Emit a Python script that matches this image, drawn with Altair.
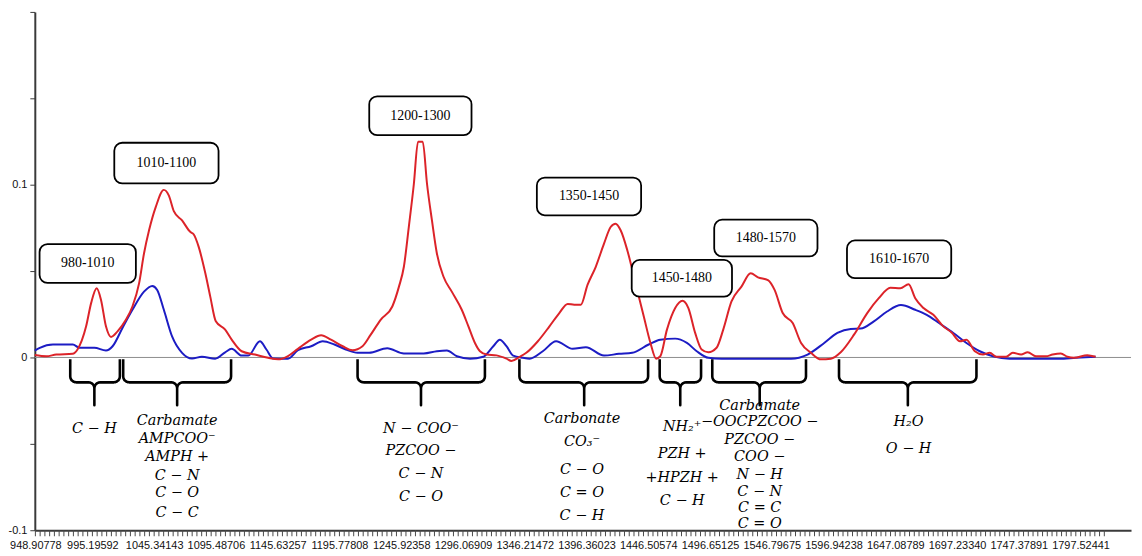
import math
import altair as alt
import pandas as pd

# ---------------- data ----------------
red_wn = [948.4, 957.9, 965.9, 979.1, 983.1, 990.1, 994.2, 998.7, 1002.2, 1006.2, 1010.3, 1015.6,
          1022.4, 1027.7, 1033.1, 1037.1, 1041.2, 1046.6, 1053.2, 1057.3, 1061.3, 1068.0, 1074.8,
          1077.4, 1081.5, 1086.9, 1090.9, 1095.4, 1103.0, 1108.3, 1116.4, 1127.2, 1137.9, 1146.0,
          1154.0, 1162.1, 1172.8, 1180.9, 1188.9, 1198.4, 1206.4, 1214.5, 1221.2, 1229.2, 1238.7,
          1244.1, 1248.1, 1252.1, 1256.2, 1259.6, 1263.4, 1266.9, 1270.9, 1274.9, 1280.3, 1287.0,
          1295.1, 1300.5, 1305.8, 1309.9, 1315.3, 1323.3, 1331.4, 1335.4, 1342.1, 1347.5, 1356.9,
          1366.3, 1374.3, 1381.1, 1386.4, 1391.8, 1397.2, 1403.9, 1410.6, 1416.0, 1420.0, 1424.1,
          1429.5, 1436.2, 1442.9, 1448.3, 1452.9, 1456.3, 1461.7, 1468.4, 1474.3, 1479.1, 1484.6,
          1489.9, 1495.3, 1502.0, 1507.4, 1514.1, 1522.2, 1529.7, 1535.6, 1543.7, 1549.1, 1555.7,
          1563.8, 1570.6, 1578.6, 1586.7, 1594.8, 1602.8, 1613.6, 1624.3, 1633.7, 1643.1, 1651.2,
          1657.9, 1663.3, 1670.0, 1678.0, 1686.1, 1692.8, 1699.6, 1704.9, 1711.7, 1718.3, 1723.8,
          1729.1, 1737.1, 1742.5, 1749.2, 1754.6, 1761.3, 1769.4, 1774.8, 1781.5, 1786.9, 1792.3,
          1803.0, 1809.7]
red_abs = [0.0014, 0.0007, 0.0017, 0.0021, 0.0046, 0.0180, 0.0316, 0.0401, 0.0333, 0.0180, 0.0119, 0.0151,
           0.0218, 0.0295, 0.0429, 0.0602, 0.0736, 0.0870, 0.0970, 0.0937, 0.0847, 0.0793, 0.0726,
           0.0713, 0.0640, 0.0487, 0.0352, 0.0209, 0.0161, 0.0103, 0.0036, 0.0017, -0.0002, -0.0011,
           0.0008, 0.0050, 0.0103, 0.0128, 0.0103, 0.0065, 0.0042, 0.0065, 0.0132, 0.0218, 0.0295,
           0.0410, 0.0525, 0.0755, 0.1004, 0.1249, 0.1249, 0.1004, 0.0793, 0.0602, 0.0467, 0.0381,
           0.0276, 0.0180, 0.0084, 0.0036, 0.0017, 0.0012, -0.0007, -0.0020, 0.0004, 0.0027, 0.0094,
           0.0180, 0.0257, 0.0310, 0.0305, 0.0305, 0.0420, 0.0525, 0.0659, 0.0755, 0.0774, 0.0736,
           0.0621, 0.0429, 0.0237, 0.0084, -0.0007, 0.0007, 0.0161, 0.0286, 0.0328, 0.0286, 0.0142,
           0.0046, 0.0030, 0.0056, 0.0161, 0.0324, 0.0410, 0.0487, 0.0464, 0.0448, 0.0391, 0.0257,
           0.0199, 0.0084, 0.0027, -0.0011, -0.0007, 0.0030, 0.0132, 0.0257, 0.0343, 0.0404, 0.0401,
           0.0424, 0.0343, 0.0286, 0.0247, 0.0180, 0.0145, 0.0094, 0.0103, 0.0036, 0.0017, 0.0027,
           0.0004, 0.0004, 0.0027, 0.0017, 0.0030, 0.0007, 0.0007, 0.0017, 0.0023, 0.0004, -0.0002,
           0.0013, 0.0004]

blue_wn = [948.4, 952.5, 963.2, 979.3, 984.7, 996.8, 1006.2, 1011.6, 1019.6, 1027.7, 1037.1, 1043.8,
           1047.8, 1053.2, 1059.9, 1068.0, 1076.1, 1084.1, 1094.9, 1103.0, 1108.3, 1116.4, 1121.8,
           1131.2, 1136.5, 1141.9, 1154.0, 1162.1, 1172.8, 1182.2, 1191.7, 1201.0, 1210.5, 1219.9,
           1234.6, 1248.1, 1264.2, 1274.9, 1283.0, 1291.1, 1301.8, 1312.6, 1320.7, 1326.0, 1331.4,
           1336.8, 1344.8, 1350.2, 1360.9, 1371.7, 1385.1, 1395.9, 1410.6, 1422.7, 1433.5, 1446.9,
           1456.3, 1468.4, 1477.9, 1485.9, 1495.3, 1506.1, 1562.5, 1575.9, 1589.4, 1600.1, 1610.9,
           1619.0, 1629.7, 1640.4, 1651.7, 1663.3, 1672.6, 1683.4, 1694.2, 1704.9, 1715.7, 1726.4,
           1739.9, 1780.2, 1793.6, 1809.7]
blue_abs = [0.0040, 0.0056, 0.0075, 0.0075, 0.0056, 0.0056, 0.0040, 0.0065, 0.0171, 0.0276, 0.0381, 0.0414,
            0.0391, 0.0276, 0.0122, 0.0027, -0.0006, 0.0004, -0.0007, 0.0030, 0.0050, 0.0011, 0.0011,
            0.0094, 0.0046, -0.0006, -0.0007, 0.0042, 0.0065, 0.0094, 0.0075, 0.0046, 0.0027, 0.0027,
            0.0053, 0.0023, 0.0023, 0.0036, 0.0040, 0.0007, -0.0007, 0.0004, 0.0065, 0.0103, 0.0065,
            0.0011, -0.0002, -0.0007, 0.0036, 0.0094, 0.0050, 0.0059, 0.0011, 0.0021, 0.0027, 0.0075,
            0.0103, 0.0109, 0.0084, 0.0036, -0.0002, -0.0007, -0.0007, 0.0017, 0.0084, 0.0142, 0.0165,
            0.0167, 0.0209, 0.0266, 0.0303, 0.0276, 0.0247, 0.0195, 0.0142, 0.0084, 0.0036, 0.0007,
            -0.0007, -0.0007, -0.0002, 0.0004]

tick_labels = ["948.90778", "995.19592", "1045.34143", "1095.48706", "1145.63257", "1195.77808",
               "1245.92358", "1296.06909", "1346.21472", "1396.36023", "1446.50574", "1496.65125",
               "1546.79675", "1596.94238", "1647.08789", "1697.23340", "1747.37891", "1797.52441"]
tick_values = [float(s) for s in tick_labels]

box_labels = ["980-1010", "1010-1100", "1200-1300", "1350-1450", "1450-1480", "1480-1570", "1610-1670"]
box_wn = [991.4, 1055.3, 1261.5, 1398.4, 1473.8, 1542.0, 1650.2]
box_abs = [0.0544, 0.1125, 0.1399, 0.0932, 0.0458, 0.0691, 0.0568]

brace_left = [977.2, 1020.2, 1210.5, 1341.9, 1455.8, 1498.5, 1601.4]
brace_right = [1017.5, 1107.8, 1313.9, 1446.4, 1489.4, 1574.6, 1713.0]
brace_tip = [996.8, 1064.0, 1262.0, 1394.5, 1472.5, 1537.0, 1657.3]

group_wn = [996.8, 1064.0, 1262.0, 1392.7, 1474.1, 1537.0, 1657.9]
group_lines = [
    ["C − H"],
    ["Carbamate", "AMPCOO⁻", "AMPH +", "C − N", "C − O", "C − C"],
    ["N − COO⁻", "PZCOO −", "C − N", "C − O"],
    ["Carbonate", "CO₃⁻", "C − O", "C = O", "C − H"],
    ["NH₂⁺", "PZH +", "+HPZH +", "C − H"],
    ["Carbamate", "−OOCPZCOO −", "PZCOO −", "COO −", "N − H", "C − N", "C = C", "C = O"],
    ["H₂O", "O − H"],
]
group_abs = [
    [-0.0414],
    [-0.0368, -0.0471, -0.0575, -0.0684, -0.0787, -0.0902],
    [-0.0414, -0.0540, -0.0672, -0.0805],
    [-0.0356, -0.0489, -0.0649, -0.0787, -0.0920],
    [-0.0402, -0.0557, -0.0695, -0.0833],
    [-0.0282, -0.0374, -0.0477, -0.0575, -0.0678, -0.0776, -0.0874, -0.0966],
    [-0.0374, -0.0529],
]

# ---------------- layout ----------------
W, H = 1104, 522
X_DOM = [948.44, 1838.5]
Y_DOM = [-0.1, 0.2]
ux = (X_DOM[1] - X_DOM[0]) / W   # data units per pixel
uy = (Y_DOM[1] - Y_DOM[0]) / H

xs = alt.Scale(domain=X_DOM, nice=False, zero=False)
ys = alt.Scale(domain=Y_DOM, nice=False, zero=False)

red_df = pd.DataFrame({"wn": red_wn, "a": red_abs})
blue_df = pd.DataFrame({"wn": blue_wn, "a": blue_abs})

# one small tick per category along the bottom axis
step = (tick_values[2] - tick_values[1]) / 13
cat_ticks = []
v = tick_values[0]
while v < 1818:
    cat_ticks.append(v)
    v += step
ticks_df = pd.DataFrame({"wn": cat_ticks, "a": [-0.1 - 3 * uy] * len(cat_ticks)})

# braces
rows = []
for b, (x1, x2, xm) in enumerate(zip(brace_left, brace_right, brace_tip)):
    rw, rv = 6 * ux, 6 * uy
    vt, vm, vb = -0.0011, -0.0144, -0.0276
    pts = [(x1, vt), (x1, vm + rv)]
    n = 6
    for k in range(1, n + 1):
        th = k / n * math.pi / 2
        pts.append((x1 + rw - rw * math.cos(th), vm + rv - rv * math.sin(th)))
    pts.append((xm - rw, vm))
    for k in range(1, n + 1):
        th = k / n * math.pi / 2
        pts.append((xm - rw + rw * math.sin(th), vm - rv + rv * math.cos(th)))
    pts.append((xm, vb))
    pts.append((xm, vm - rv))
    for k in range(1, n + 1):
        th = k / n * math.pi / 2
        pts.append((xm + rw - rw * math.cos(th), vm - rv + rv * math.sin(th)))
    pts.append((x2 - rw, vm))
    for k in range(1, n + 1):
        th = k / n * math.pi / 2
        pts.append((x2 - rw + rw * math.sin(th), vm + rv - rv * math.cos(th)))
    pts.append((x2, vt))
    for i, (px, pv) in enumerate(pts):
        rows.append({"brace": b, "seq": i, "wn": px, "a": pv})
brace_df = pd.DataFrame(rows)

txt_rows = []
for gx, lines, vals in zip(group_wn, group_lines, group_abs):
    for t, a in zip(lines, vals):
        txt_rows.append({"wn": gx, "a": a, "t": t})
txt_df = pd.DataFrame(txt_rows)

box_wpx = [97, 105, 103, 105, 101, 104, 105]
box_hpx = [39, 41, 39, 38, 37, 37, 38]
box_df = pd.DataFrame({
    "wn": box_wn, "a": box_abs, "t": box_labels,
    "x1": [w - bw / 2 * ux for w, bw in zip(box_wn, box_wpx)],
    "x2": [w + bw / 2 * ux for w, bw in zip(box_wn, box_wpx)],
    "y1": [a - bh / 2 * uy for a, bh in zip(box_abs, box_hpx)],
    "y2": [a + bh / 2 * uy for a, bh in zip(box_abs, box_hpx)],
})

x_axis = alt.Axis(
    values=tick_values, title=None, grid=False, ticks=False, tickSize=0,
    labelExpr="format(datum.value, '.5f')", labelFlush=False, labelOverlap=False,
    labelFont="Liberation Sans", labelFontSize=11, labelColor="#111", labelPadding=9,
    domainColor="#3a3a3a", domainWidth=2,
)
y_axis = alt.Axis(
    values=[-0.1, -0.05, 0, 0.05, 0.1, 0.15, 0.2], title=None, grid=False,
    labelExpr="datum.value == 0.1 ? '0.1' : datum.value == 0 ? '0' : datum.value == -0.1 ? '-0.1' : ''",
    tickSize=5, tickColor="#3a3a3a", tickWidth=1, labelPadding=3,
    labelFont="Liberation Sans", labelFontSize=11, labelColor="#111",
    domainColor="#3a3a3a", domainWidth=2,
)

zero = alt.Chart(pd.DataFrame({"a": [0.0]})).mark_rule(color="#8c8c8c", strokeWidth=1).encode(
    y=alt.Y("a:Q", scale=ys, axis=y_axis)
)

minor = alt.Chart(ticks_df).mark_tick(
    orient="vertical", color="#4a4a4a", thickness=1, size=6, opacity=1, clip=False
).encode(
    x=alt.X("wn:Q", scale=xs, axis=x_axis),
    y=alt.Y("a:Q", scale=ys),
)

blue = alt.Chart(blue_df).mark_line(color="#1c1cc4", strokeWidth=2, interpolate="monotone").encode(
    x=alt.X("wn:Q", scale=xs), y=alt.Y("a:Q", scale=ys)
)
red = alt.Chart(red_df).mark_line(color="#dc2329", strokeWidth=2, interpolate="monotone").encode(
    x=alt.X("wn:Q", scale=xs), y=alt.Y("a:Q", scale=ys)
)

braces = alt.Chart(brace_df).mark_line(color="black", strokeWidth=2.6, strokeJoin="round").encode(
    x=alt.X("wn:Q", scale=xs), y=alt.Y("a:Q", scale=ys),
    detail="brace:N", order="seq:Q",
)

group_text = alt.Chart(txt_df).mark_text(
    font="DejaVu Serif", fontStyle="italic", fontSize=14.5, color="black",
    align="center", baseline="middle",
).encode(x=alt.X("wn:Q", scale=xs), y=alt.Y("a:Q", scale=ys), text="t:N")

boxes = alt.Chart(box_df).mark_rect(
    fill="white", stroke="black", strokeWidth=1.8, cornerRadius=8
).encode(
    x=alt.X("x1:Q", scale=xs), x2="x2:Q", y=alt.Y("y1:Q", scale=ys), y2="y2:Q"
)
box_text = alt.Chart(box_df).mark_text(
    font="Liberation Serif", fontSize=14, color="black", align="center", baseline="middle"
).encode(x=alt.X("wn:Q", scale=xs), y=alt.Y("a:Q", scale=ys), text="t:N")

chart = alt.layer(zero, minor, blue, red, braces, group_text, boxes, box_text).properties(
    width=W, height=H,
    autosize=alt.AutoSizeParams(type="none"),
    padding={"left": 27, "top": 2, "right": 3, "bottom": 24},
).configure_view(stroke=None)

chart.save("out.html", embed_options={"renderer": "svg", "actions": False})
